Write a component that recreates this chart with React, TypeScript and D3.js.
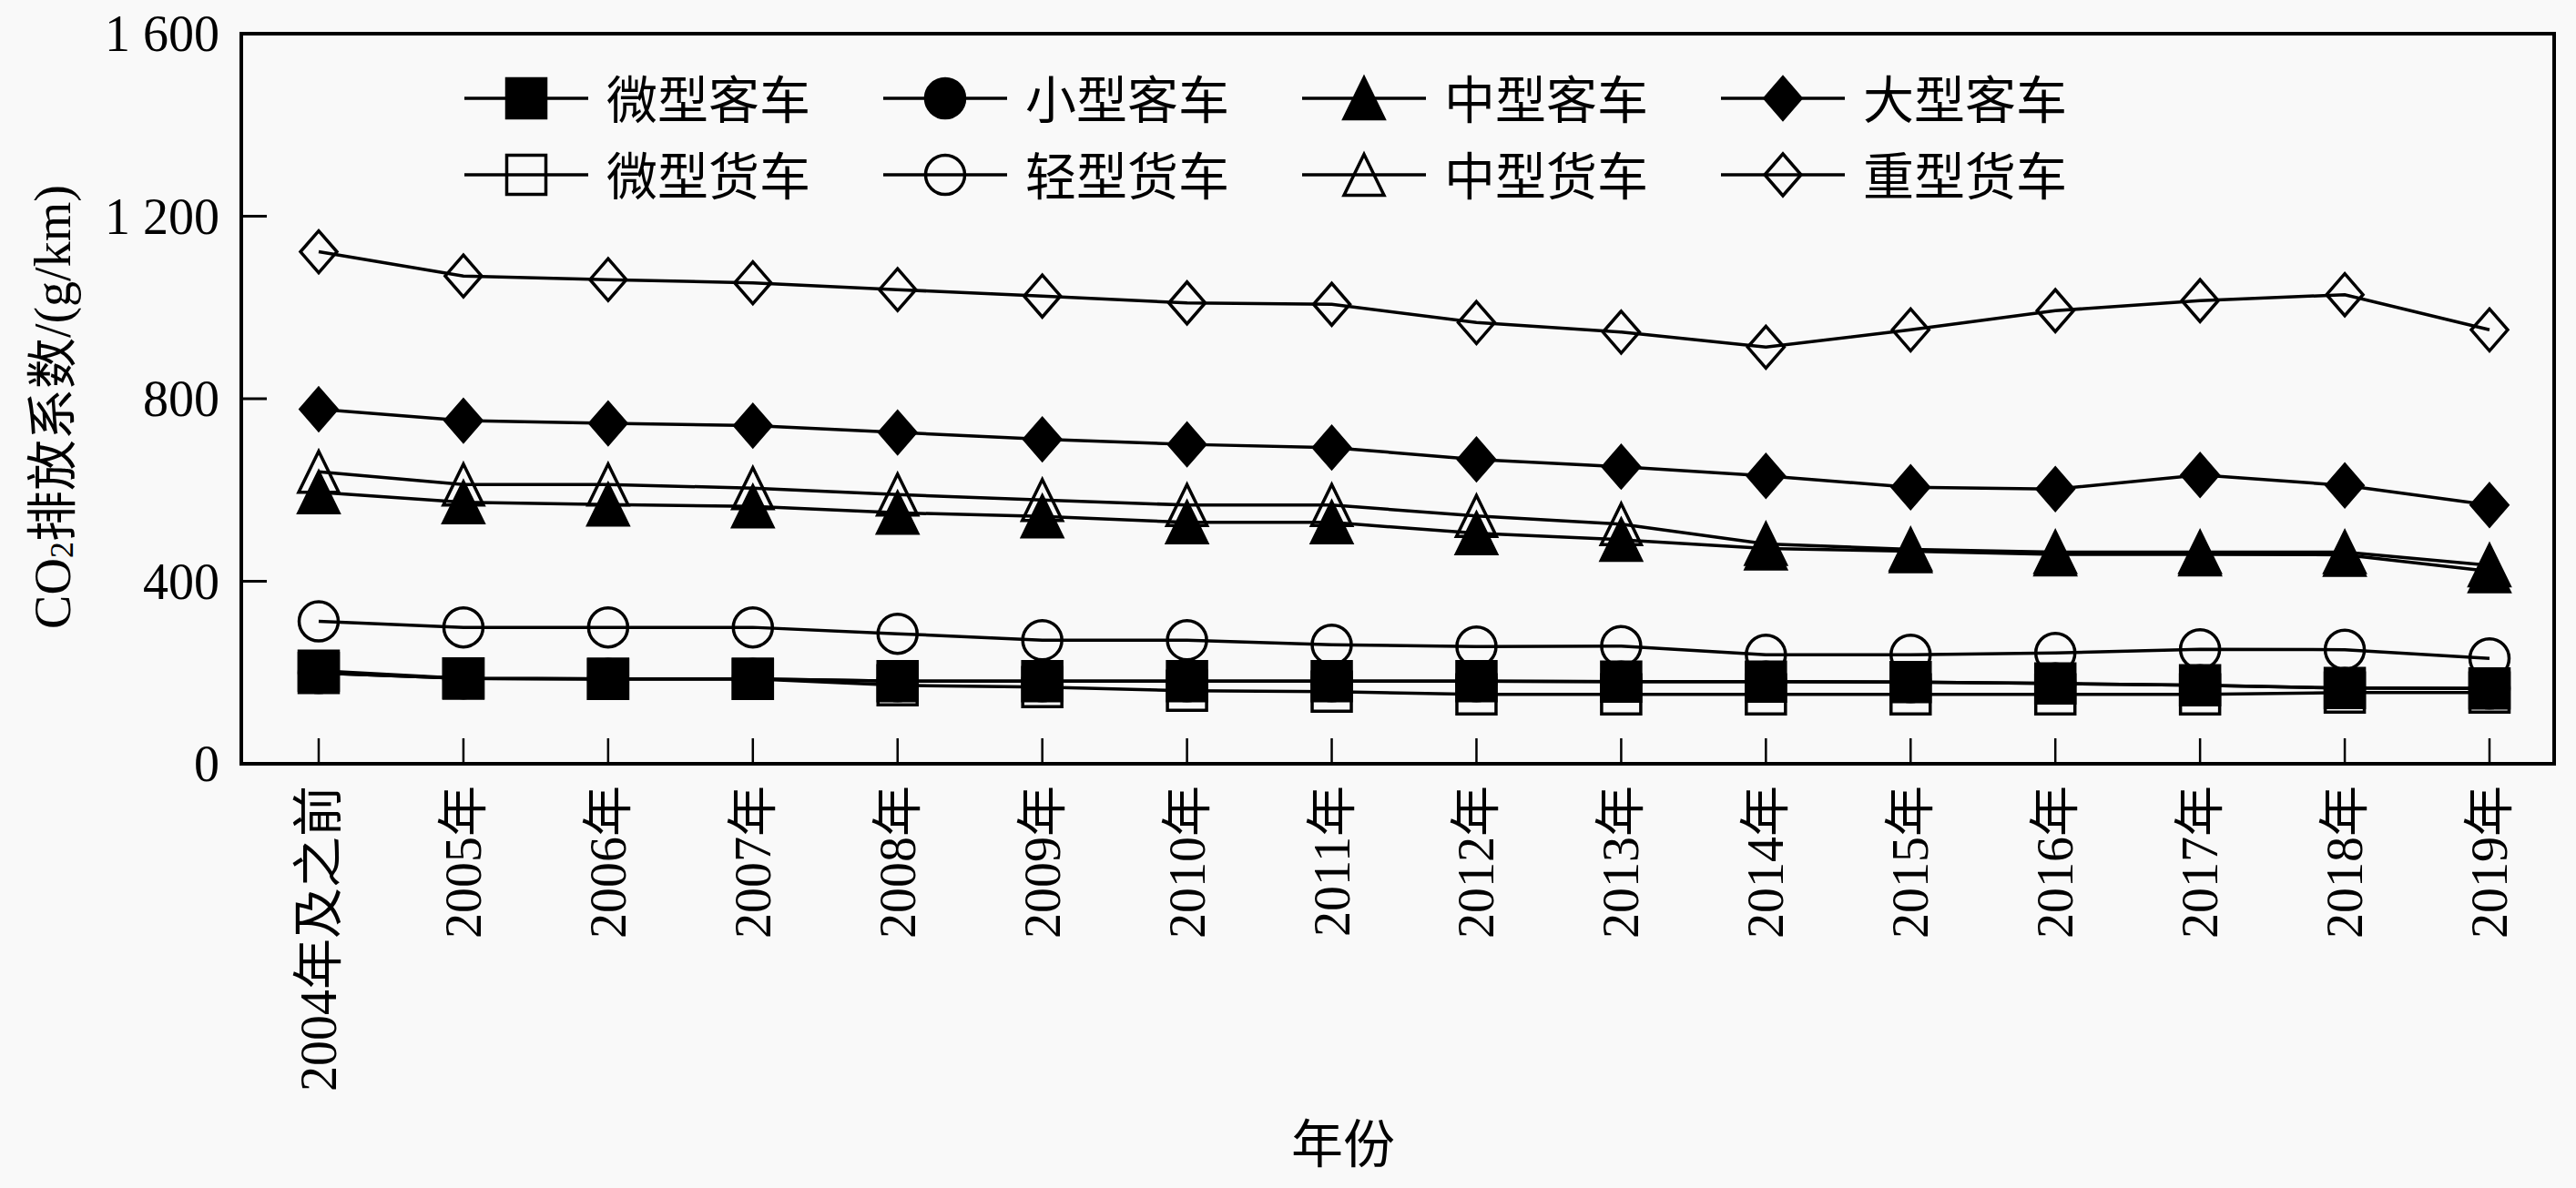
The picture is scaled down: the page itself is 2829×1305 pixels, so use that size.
import React, { useEffect, useRef } from "react";
import * as d3 from "d3";

// categories and values
const years = [
  "2004年及之前", "2005年", "2006年", "2007年", "2008年", "2009年", "2010年", "2011年",
  "2012年", "2013年", "2014年", "2015年", "2016年", "2017年", "2018年", "2019年",
];
const microBus = [199, 187, 186, 186, 181, 181, 181, 181, 181, 180, 180, 179, 176, 172, 166, 165];
const smallBus = [199, 187, 186, 186, 181, 181, 181, 181, 181, 180, 180, 179, 176, 172, 166, 165];
const mediumBus = [595, 573, 568, 564, 550, 542, 529, 529, 505, 491, 472, 466, 459, 459, 458, 422];
const largeBus = [777, 752, 746, 741, 726, 711, 700, 693, 667, 651, 631, 606, 602, 633, 610, 567];
const microTruck = [204, 187, 186, 186, 172, 168, 160, 158, 152, 152, 152, 152, 152, 152, 156, 156];
const lightTruck = [312, 299, 299, 299, 285, 271, 271, 261, 257, 258, 239, 239, 243, 251, 250, 231];
const mediumTruck = [640, 612, 612, 604, 590, 578, 567, 567, 543, 525, 482, 470, 464, 464, 464, 435];
const heavyTruck = [1122, 1069, 1061, 1054, 1039, 1025, 1010, 1007, 967, 946, 913, 951, 993, 1015, 1028, 951];

const yTicks = [0, 400, 800, 1200, 1600];
const yTickLabels = ["0", "400", "800", "1 200", "1 600"];

type Shape = "square" | "circle" | "triangle" | "diamond";
interface Series {
  name: string;
  values: number[];
  shape: Shape;
  filled: boolean;
}

// legend order (row 1 buses, row 2 trucks)
const legendSeries: Series[] = [
  { name: "微型客车", values: microBus, shape: "square", filled: true },
  { name: "小型客车", values: smallBus, shape: "circle", filled: true },
  { name: "中型客车", values: mediumBus, shape: "triangle", filled: true },
  { name: "大型客车", values: largeBus, shape: "diamond", filled: true },
  { name: "微型货车", values: microTruck, shape: "square", filled: false },
  { name: "轻型货车", values: lightTruck, shape: "circle", filled: false },
  { name: "中型货车", values: mediumTruck, shape: "triangle", filled: false },
  { name: "重型货车", values: heavyTruck, shape: "diamond", filled: false },
];

const FONT = "'Liberation Serif', 'Times New Roman', 'Noto Sans CJK SC', serif";
const INK = "#000";

function markerPath(shape: Shape): string {
  switch (shape) {
    case "square":
      return "M-21.5,-21.5H21.5V21.5H-21.5Z";
    case "circle":
      return "M21.5,0A21.5,21.5 0 1,1 -21.5,0A21.5,21.5 0 1,1 21.5,0Z";
    case "triangle":
      return "M0,-22.5L22,22.5H-22Z";
    case "diamond":
      return "M0,-23L20,0L0,23L-20,0Z";
  }
}

const App: React.FC = () => {
  const svgRef = useRef<SVGSVGElement>(null);

  useEffect(() => {
    const W = 2829;
    const H = 1305;
    const svg = d3.select(svgRef.current);
    svg.selectAll("*").remove();

    svg.append("rect").attr("width", W).attr("height", H).attr("fill", "#f9f9f9");

    const left = 265;
    const right = 2805;
    const top = 37;
    const bottom = 839;

    const x = d3.scalePoint<string>().domain(years).range([left + 85, right - 71]);
    const y = d3.scaleLinear().domain([0, 1600]).range([bottom, top]);

    // frame
    svg
      .append("rect")
      .attr("x", left)
      .attr("y", top)
      .attr("width", right - left)
      .attr("height", bottom - top)
      .attr("fill", "none")
      .attr("stroke", INK)
      .attr("stroke-width", 4);

    // x ticks (inward)
    svg
      .append("g")
      .selectAll("line")
      .data(years)
      .enter()
      .append("line")
      .attr("x1", (d) => x(d)!)
      .attr("x2", (d) => x(d)!)
      .attr("y1", bottom)
      .attr("y2", bottom - 28)
      .attr("stroke", INK)
      .attr("stroke-width", 2.5);

    // x tick labels, rotated
    svg
      .append("g")
      .selectAll("text")
      .data(years)
      .enter()
      .append("text")
      .attr("transform", (d) => `translate(${x(d)},${bottom + 24}) rotate(-90)`)
      .attr("text-anchor", "end")
      .attr("dominant-baseline", "central")
      .attr("font-family", FONT)
      .attr("font-size", 56)
      .attr("fill", INK)
      .text((d) => d);

    // y ticks (inward)
    svg
      .append("g")
      .selectAll("line")
      .data(yTicks)
      .enter()
      .append("line")
      .attr("x1", left)
      .attr("x2", left + 28)
      .attr("y1", (d) => y(d))
      .attr("y2", (d) => y(d))
      .attr("stroke", INK)
      .attr("stroke-width", 3);

    svg
      .append("g")
      .selectAll("text")
      .data(yTicks)
      .enter()
      .append("text")
      .attr("x", 241)
      .attr("y", (d) => y(d))
      .attr("text-anchor", "end")
      .attr("dominant-baseline", "central")
      .attr("font-family", FONT)
      .attr("font-size", 56)
      .attr("fill", INK)
      .text((_, i) => yTickLabels[i]);

    // axis titles
    const yTitle = svg
      .append("text")
      .attr("transform", `translate(58,447) rotate(-90)`)
      .attr("text-anchor", "middle")
      .attr("dominant-baseline", "central")
      .attr("font-family", FONT)
      .attr("font-size", 56)
      .attr("fill", INK);
    yTitle.append("tspan").text("CO");
    yTitle.append("tspan").attr("font-size", 36).attr("dy", 10).text("2");
    yTitle.append("tspan").attr("dy", -10).text("排放系数/(g/km)");

    svg
      .append("text")
      .attr("x", 1475)
      .attr("y", 1257)
      .attr("text-anchor", "middle")
      .attr("dominant-baseline", "central")
      .attr("font-family", FONT)
      .attr("font-size", 57)
      .attr("fill", INK)
      .text("年份");

    // draw trucks first so bus markers sit on top
    const drawOrder = [4, 5, 6, 7, 1, 0, 2, 3].map((i) => legendSeries[i]);
    const line = d3
      .line<number>()
      .x((_, i) => x(years[i])!)
      .y((d) => y(d));

    const plot = svg.append("g");
    drawOrder.forEach((s) => {
      plot
        .append("path")
        .datum(s.values)
        .attr("d", line)
        .attr("fill", "none")
        .attr("stroke", INK)
        .attr("stroke-width", 3.5);
    });
    drawOrder.forEach((s) => {
      plot
        .append("g")
        .selectAll("path")
        .data(s.values)
        .enter()
        .append("path")
        .attr("transform", (d, i) => `translate(${x(years[i])},${y(d)})`)
        .attr("d", markerPath(s.shape))
        .attr("fill", s.filled ? INK : "none")
        .attr("stroke", INK)
        .attr("stroke-width", 3.5);
    });

    // legend: 2 rows x 4 columns
    const colX = [578, 1038, 1498, 1958];
    const rowY = [108, 192];
    const legend = svg.append("g");
    legendSeries.forEach((s, i) => {
      const cx = colX[i % 4];
      const cy = rowY[Math.floor(i / 4)];
      const g = legend.append("g").attr("transform", `translate(${cx},${cy})`);
      g.append("line")
        .attr("x1", -68)
        .attr("x2", 68)
        .attr("stroke", INK)
        .attr("stroke-width", 3.5);
      g.append("path")
        .attr("d", markerPath(s.shape))
        .attr("fill", s.filled ? INK : "none")
        .attr("stroke", INK)
        .attr("stroke-width", 3.5);
      g.append("text")
        .attr("x", 88)
        .attr("y", 3)
        .attr("dominant-baseline", "central")
        .attr("font-family", FONT)
        .attr("font-size", 56)
        .attr("fill", INK)
        .text(s.name);
    });
  }, []);

  return (
    <svg
      ref={svgRef}
      width={2829}
      height={1305}
      style={{ position: "absolute", left: 0, top: 0, display: "block" }}
    ></svg>
  );
};

export default App;
